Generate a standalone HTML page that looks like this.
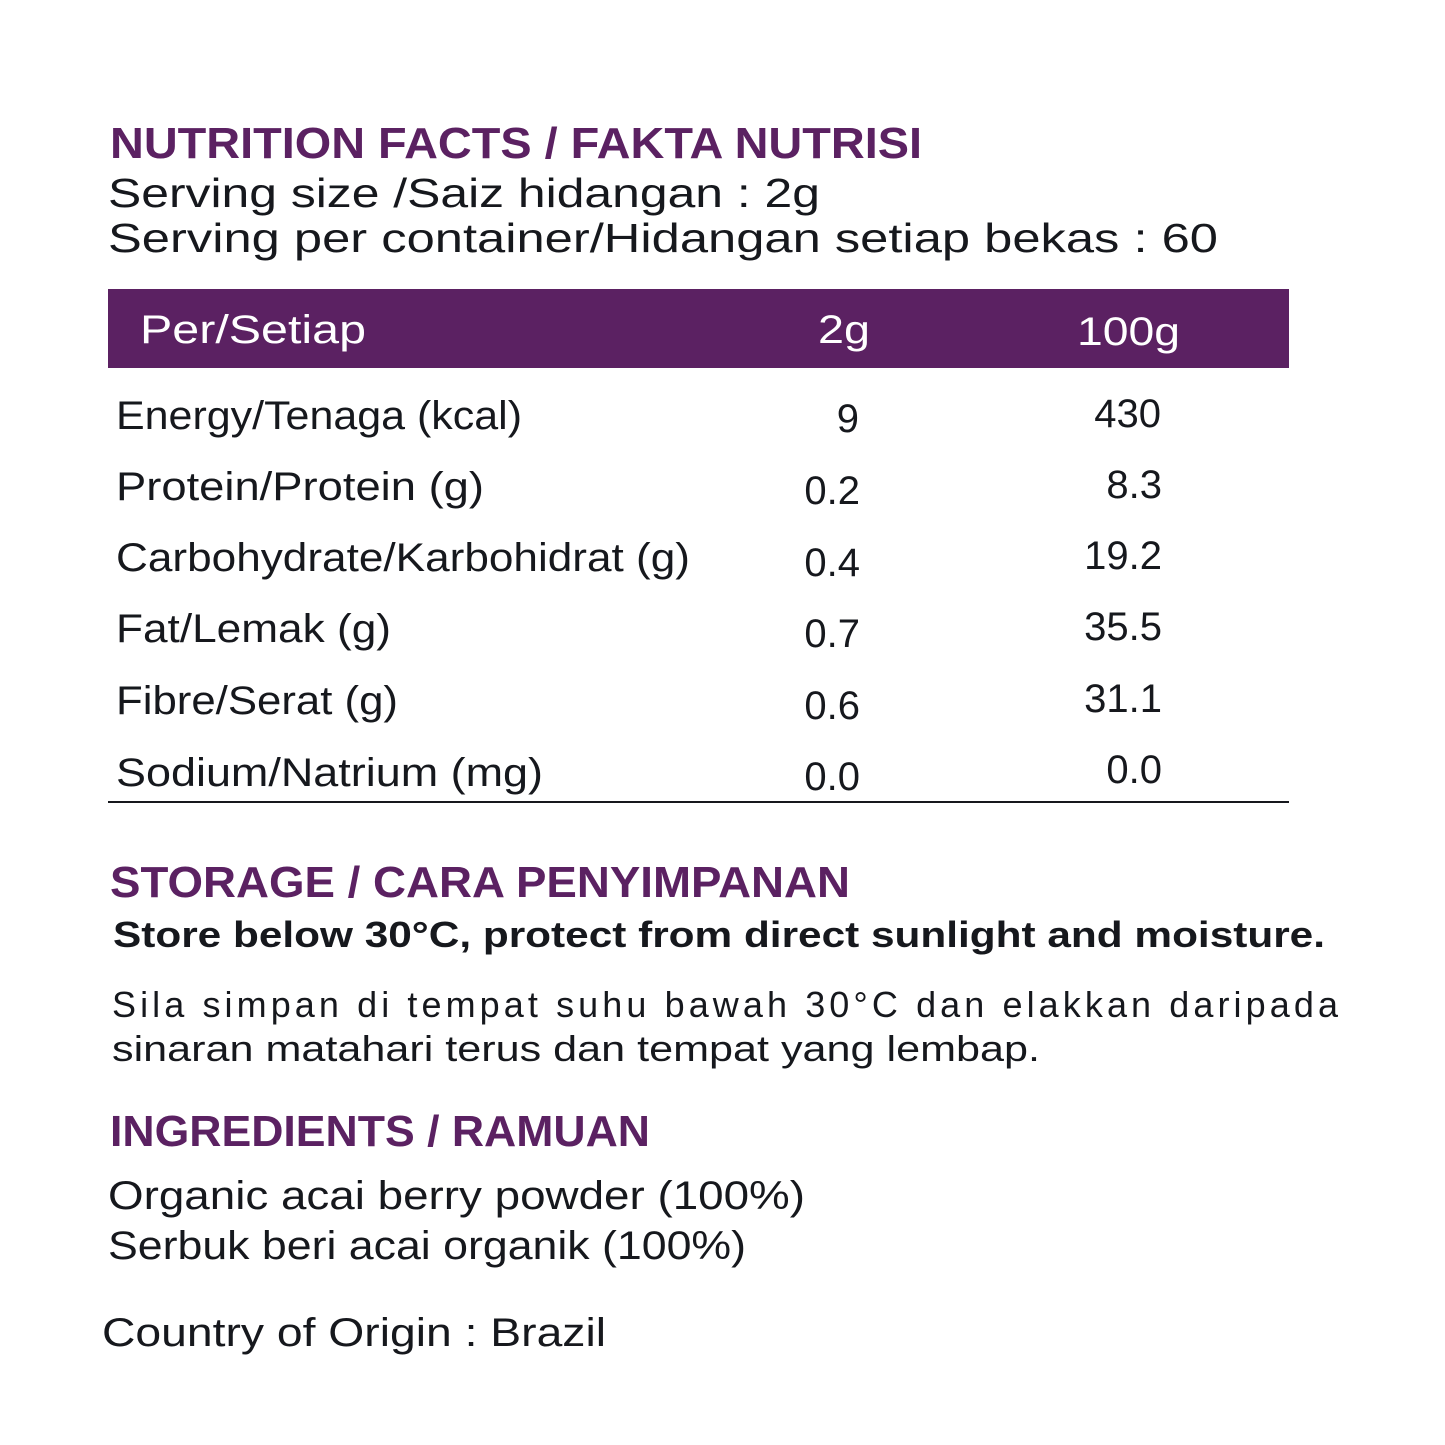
<!DOCTYPE html>
<html><head><meta charset="utf-8">
<style>
html,body{margin:0;padding:0;background:#fff;}
svg{display:block;}
text{font-family:"Liberation Sans",sans-serif;}
.h{fill:#5b2162;font-weight:bold;font-size:44px;}
.t{fill:#16181d;}
</style></head>
<body>
<svg width="1445" height="1445" viewBox="0 0 1445 1445">
<rect x="0" y="0" width="1445" height="1445" fill="#fff"/>
<text class="h" x="110" y="158" textLength="812" lengthAdjust="spacingAndGlyphs">NUTRITION FACTS / FAKTA NUTRISI</text>
<text class="t" x="108" y="207" font-size="41" textLength="712" lengthAdjust="spacingAndGlyphs">Serving size /Saiz hidangan : 2g</text>
<text class="t" x="108" y="252" font-size="41" textLength="1110" lengthAdjust="spacingAndGlyphs">Serving per container/Hidangan setiap bekas : 60</text>

<rect x="108" y="289" width="1181" height="79" fill="#5b2162"/>
<text x="140" y="343" font-size="40" fill="#fff" textLength="226" lengthAdjust="spacingAndGlyphs">Per/Setiap</text>
<text x="818" y="343" font-size="40" fill="#fff" textLength="52" lengthAdjust="spacingAndGlyphs">2g</text>
<text x="1077" y="345" font-size="40" fill="#fff" textLength="103" lengthAdjust="spacingAndGlyphs">100g</text>

<g class="t" font-size="40">
<text x="116" y="429" textLength="406" lengthAdjust="spacingAndGlyphs">Energy/Tenaga (kcal)</text>
<text x="859" y="432" text-anchor="end">9</text>
<text x="1161" y="427" text-anchor="end">430</text>

<text x="116" y="500" textLength="368" lengthAdjust="spacingAndGlyphs">Protein/Protein (g)</text>
<text x="860" y="504" text-anchor="end">0.2</text>
<text x="1162" y="498" text-anchor="end">8.3</text>

<text x="116" y="571" textLength="574" lengthAdjust="spacingAndGlyphs">Carbohydrate/Karbohidrat (g)</text>
<text x="860" y="576" text-anchor="end">0.4</text>
<text x="1162" y="569" text-anchor="end">19.2</text>

<text x="116" y="642" textLength="275" lengthAdjust="spacingAndGlyphs">Fat/Lemak (g)</text>
<text x="860" y="647" text-anchor="end">0.7</text>
<text x="1162" y="640" text-anchor="end">35.5</text>

<text x="116" y="714" textLength="282" lengthAdjust="spacingAndGlyphs">Fibre/Serat (g)</text>
<text x="860" y="719" text-anchor="end">0.6</text>
<text x="1162" y="712" text-anchor="end">31.1</text>

<text x="116" y="786" textLength="427" lengthAdjust="spacingAndGlyphs">Sodium/Natrium (mg)</text>
<text x="860" y="790" text-anchor="end">0.0</text>
<text x="1162" y="783" text-anchor="end">0.0</text>
</g>
<rect x="108" y="801" width="1181" height="2" fill="#16181d"/>

<text class="h" x="110" y="897" textLength="740" lengthAdjust="spacingAndGlyphs">STORAGE / CARA PENYIMPANAN</text>
<text class="t" x="113" y="947" font-size="36" font-weight="bold" textLength="1212" lengthAdjust="spacingAndGlyphs">Store below 30°C, protect from direct sunlight and moisture.</text>
<text class="t" x="112" y="1017" font-size="36" textLength="1226" lengthAdjust="spacing">Sila simpan di tempat suhu bawah 30°C dan elakkan daripada</text>
<text class="t" x="112" y="1061" font-size="36" textLength="928" lengthAdjust="spacingAndGlyphs">sinaran matahari terus dan tempat yang lembap.</text>

<text class="h" x="110" y="1146" textLength="540" lengthAdjust="spacingAndGlyphs">INGREDIENTS / RAMUAN</text>
<text class="t" x="108" y="1209" font-size="40" textLength="697" lengthAdjust="spacingAndGlyphs">Organic acai berry powder (100%)</text>
<text class="t" x="108" y="1259" font-size="40" textLength="638" lengthAdjust="spacingAndGlyphs">Serbuk beri acai organik (100%)</text>

<text class="t" x="102" y="1346" font-size="40" textLength="504" lengthAdjust="spacingAndGlyphs">Country of Origin : Brazil</text>
</svg>
</body></html>
